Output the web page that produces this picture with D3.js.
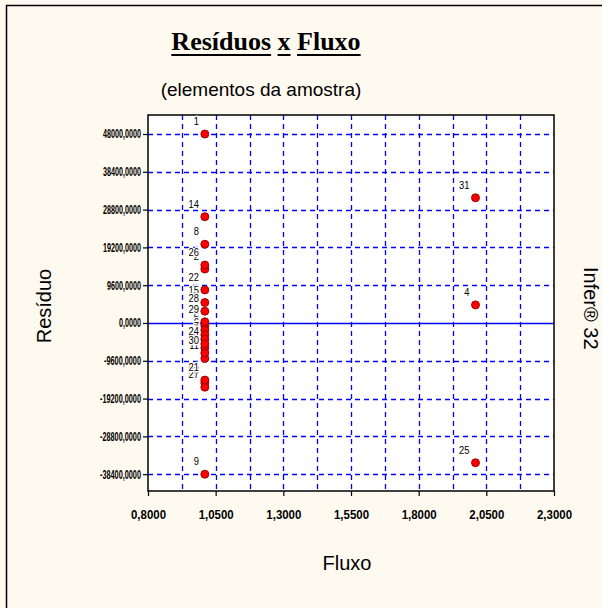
<!DOCTYPE html>
<html>
<head>
<meta charset="utf-8">
<script src="https://cdn.jsdelivr.net/npm/d3@7"></script>
<style>
  body { margin: 0; background: #fffaf0; }
  figure { margin: 0; }
  svg { display: block; }
</style>
</head>
<body>
<figure id="chart"></figure>
<script>
// elementos da amostra (numero, fluxo, residuo) - os de rotulo encoberto primeiro
const ids = [2, 3, 5, 6, 7, 10, 11, 23, 27, 1, 14, 8, 26, 22, 15, 28, 29, 24, 30, 21, 9, 31, 4, 25];
const fluxo = [1.01, 1.01, 1.01, 1.01, 1.01, 1.01, 1.01, 1.01, 1.01, 1.01, 1.01, 1.01,
  1.01, 1.01, 1.01, 1.01, 1.01, 1.01, 1.01, 1.01, 1.01, 2.01, 2.01, 2.01];
const residuo = [13700, -700, -1800, -3000, -4100, -6300, -9000, -15200, -16300, 48000, 27000, 20000,
  14700, 8400, 5200, 3000, 300, -5300, -7600, -14500, -38400, 31800, 4600, -35500];

const xTicks = [0.8, 1.05, 1.3, 1.55, 1.8, 2.05, 2.3];
const yTicks = [-38400, -28800, -19200, -9600, 0, 9600, 19200, 28800, 38400, 48000];

const W = 602, H = 608;
const plot = { left: 148, right: 554, top: 115, bottom: 491 };

const svg = d3.select("figure#chart")
  .append("svg")
  .attr("width", W)
  .attr("height", H);

svg.append("rect").attr("width", W).attr("height", H).attr("fill", "#fffaf0");

// moldura da janela
svg.append("path")
  .attr("d", "M6.5,608V5.5H602")
  .attr("fill", "none")
  .attr("stroke", "#000")
  .attr("stroke-width", 1.5);

const x = d3.scaleLinear().domain([0.8, 2.3]).range([plot.left, plot.right]);
const y = d3.scaleLinear().domain([-42670, 52830]).range([plot.bottom, plot.top]);

const fmt = d => d.toFixed(4).replace(".", ",");
// largura das fontes pequenas e comprimidas do original
const yLabW = s => s.replace(/[^0-9]/g, "").length * 4 + (s.includes(",") ? 2 : 0) + (s.startsWith("-") ? 3 : 0);
const xLabW = s => s.replace(/[^0-9]/g, "").length * 6.3 + 3.5;

// area do grafico
svg.append("rect")
  .attr("x", plot.left).attr("y", plot.top)
  .attr("width", plot.right - plot.left).attr("height", plot.bottom - plot.top)
  .attr("fill", "#fff");

// grade vertical (a cada 0,125)
const xGrid = d3.range(0.925, 2.3, 0.125);
svg.append("g").selectAll("line")
  .data(xGrid)
  .enter().append("line")
  .attr("x1", d => Math.round(x(d)) + 0.5).attr("x2", d => Math.round(x(d)) + 0.5)
  .attr("y1", plot.top).attr("y2", plot.bottom)
  .attr("stroke", "#0000ff").attr("stroke-width", 1.3)
  .attr("stroke-dasharray", "5,4");

// grade horizontal
svg.append("g").selectAll("line")
  .data(yTicks.filter(d => d !== 0))
  .enter().append("line")
  .attr("x1", plot.left).attr("x2", plot.right)
  .attr("y1", d => Math.round(y(d)) + 0.5).attr("y2", d => Math.round(y(d)) + 0.5)
  .attr("stroke", "#0000ff").attr("stroke-width", 1.3)
  .attr("stroke-dasharray", "5,4");

// linha do zero
svg.append("line")
  .attr("x1", plot.left).attr("x2", plot.right)
  .attr("y1", Math.round(y(0)) + 0.5).attr("y2", Math.round(y(0)) + 0.5)
  .attr("stroke", "#0000ff").attr("stroke-width", 1.5);

// borda
svg.append("rect")
  .attr("x", plot.left).attr("y", plot.top)
  .attr("width", plot.right - plot.left).attr("height", plot.bottom - plot.top)
  .attr("fill", "none").attr("stroke", "#000").attr("stroke-width", 1.5);

// eixo Y
const gy = svg.append("g")
  .attr("transform", "translate(" + plot.left + ",0)")
  .call(d3.axisLeft(y).tickValues(yTicks).tickFormat(fmt).tickSize(5).tickPadding(2));
gy.select(".domain").remove();
gy.selectAll("line").attr("stroke", "#000").attr("stroke-width", 1.2);
gy.selectAll("text")
  .attr("font-family", "Liberation Sans, Arial, sans-serif")
  .attr("font-weight", "bold")
  .attr("font-size", 12)
  .attr("fill", "#000")
  .attr("textLength", d => yLabW(fmt(d)))
  .attr("lengthAdjust", "spacingAndGlyphs");

// eixo X
const gx = svg.append("g")
  .attr("transform", "translate(0," + plot.bottom + ")")
  .call(d3.axisBottom(x).tickValues(xTicks).tickFormat(fmt).tickSize(5).tickPadding(14));
gx.select(".domain").remove();
gx.selectAll("line").attr("stroke", "#000").attr("stroke-width", 1.2);
gx.selectAll("text")
  .attr("font-family", "Liberation Sans, Arial, sans-serif")
  .attr("font-weight", "bold")
  .attr("font-size", 13)
  .attr("fill", "#000")
  .attr("textLength", d => xLabW(fmt(d)))
  .attr("lengthAdjust", "spacingAndGlyphs");

// rotulos dos pontos (fundo opaco, como no original)
const pts = ids.map((id, i) => ({ id: id, fx: fluxo[i], r: residuo[i] }));
svg.append("g").selectAll("text")
  .data(pts)
  .enter().append("text")
  .attr("transform", d => "translate(" + (x(d.fx) - 6) + "," + (y(d.r) - 9) + ") scale(0.85,1)")
  .attr("text-anchor", "end")
  .attr("font-family", "Liberation Sans, Arial, sans-serif")
  .attr("font-size", 11)
  .attr("fill", "#000")
  .attr("stroke", "#fff")
  .attr("stroke-width", 2.5)
  .attr("paint-order", "stroke")
  .text(d => d.id);

// pontos
svg.append("g").selectAll("circle")
  .data(pts)
  .enter().append("circle")
  .attr("cx", d => x(d.fx))
  .attr("cy", d => y(d.r))
  .attr("r", 4)
  .attr("fill", "#ff0000")
  .attr("stroke", "#8a0000")
  .attr("stroke-width", 0.9);

// titulo com palavras sublinhadas
const title = svg.append("text")
  .attr("x", 266).attr("y", 50)
  .attr("text-anchor", "middle")
  .attr("font-family", "Liberation Serif, Times New Roman, serif")
  .attr("font-weight", "bold")
  .attr("font-size", 26)
  .attr("fill", "#000")
  .text("Resíduos x Fluxo");
const tn = title.node();
[[0, 8], [9, 1], [11, 5]].forEach(([s, n]) => {
  const x0 = tn.getStartPositionOfChar(s).x;
  const x1 = tn.getEndPositionOfChar(s + n - 1).x;
  svg.append("line")
    .attr("x1", x0).attr("x2", x1)
    .attr("y1", 55).attr("y2", 55)
    .attr("stroke", "#000").attr("stroke-width", 2);
});

svg.append("text")
  .attr("x", 261).attr("y", 96)
  .attr("text-anchor", "middle")
  .attr("font-family", "Liberation Sans, Arial, sans-serif")
  .attr("font-size", 19)
  .attr("fill", "#000")
  .text("(elementos da amostra)");

svg.append("text")
  .attr("x", 347).attr("y", 570)
  .attr("text-anchor", "middle")
  .attr("font-family", "Liberation Sans, Arial, sans-serif")
  .attr("font-size", 20)
  .attr("fill", "#000")
  .text("Fluxo");

svg.append("text")
  .attr("transform", "translate(51,306) rotate(-90)")
  .attr("text-anchor", "middle")
  .attr("font-family", "Liberation Sans, Arial, sans-serif")
  .attr("font-size", 20)
  .attr("fill", "#000")
  .text("Resíduo");

svg.append("text")
  .attr("transform", "translate(584,267) rotate(90)")
  .attr("text-anchor", "start")
  .attr("font-family", "Liberation Sans, Arial, sans-serif")
  .attr("font-size", 20)
  .attr("fill", "#000")
  .text("Infer® 32");
</script>
</body>
</html>
